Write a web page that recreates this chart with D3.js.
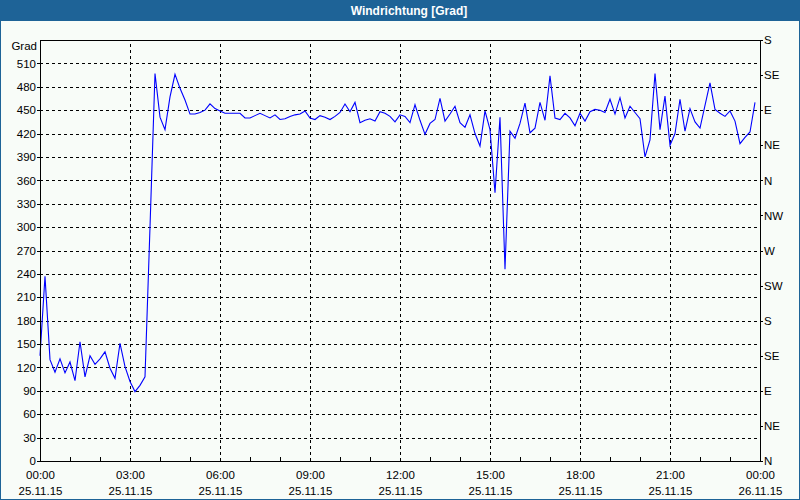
<!DOCTYPE html>
<html><head><meta charset="utf-8">
<script src="https://cdn.jsdelivr.net/npm/d3@7/dist/d3.min.js"></script>
<style>body{margin:0;background:#fff}svg{display:block}</style>
</head><body><svg id="c" width="800" height="500"></svg>
<script>
const title = "Windrichtung [Grad]";
const yUnit = "Grad";
const stepMinutes = 10;
const values = [
 135,237,130,114,131,113,127,103,153,108,
 135,124,131,140,119,106,151,121,102,89,
 97,108,300,497,441,425,467,496,478,463,
 445,445,447,450,458,452,449,446,446,446,
 446,440,440,443,446,443,440,444,438,439,
 442,444,445,449,440,438,443,441,438,442,
 447,458,448,460,434,437,439,436,448,446,
 442,435,444,442,434,457,437,419,433,438,
 465,436,445,455,434,428,444,420,404,449,
 425,344,441,246,423,414,433,459,421,427,
 460,437,494,440,438,446,440,430,446,436,
 448,451,450,447,464,445,466,440,455,447,
 439,390,412,497,425,468,405,420,464,423,
 452,435,427,456,485,451,446,442,449,436,
 407,415,422,460
];
const yTicks = [0,30,60,90,120,150,180,210,240,270,300,330,360,390,420,450,480,510];
const dirValues = [0,45,90,135,180,225,270,315,360,405,450,495,540];
const dirLabels = ["N","NE","E","SE","S","SW","W","NW","N","NE","E","SE","S"];
const timeTicks = [0,180,360,540,720,900,1080,1260,1440];
const timeLabels = ["00:00","03:00","06:00","09:00","12:00","15:00","18:00","21:00","00:00"];
const dateLabels = ["25.11.15","25.11.15","25.11.15","25.11.15","25.11.15","25.11.15","25.11.15","25.11.15","26.11.15"];
const minorTicks = [60,120,240,300,420,480,600,660,780,840,960,1020,1140,1200,1320,1380];

const W = 800, H = 500;
const L = 40, R = 760, T = 40, B = 461;
const svg = d3.select("#c");
const font = "'Liberation Sans', Arial, sans-serif";

svg.append("rect").attr("x",0).attr("y",0).attr("width",W).attr("height",H).attr("fill","#f8fcf8");
svg.append("rect").attr("x",0).attr("y",0).attr("width",W).attr("height",21).attr("fill","#1e6397");
svg.append("rect").attr("x",0.5).attr("y",0.5).attr("width",W-1).attr("height",H-1)
  .attr("fill","none").attr("stroke","#1e6397").attr("stroke-width",1);
svg.append("text").attr("x",409).attr("y",14.5).attr("text-anchor","middle")
  .attr("font-family",font).attr("font-weight","bold").attr("font-size","12px")
  .attr("fill","#fff").text(title);

const x = d3.scaleLinear().domain([0,1440]).range([L,R]);
const y = d3.scaleLinear().domain([0,540]).range([B,T]);

// grid
const gridY = svg.append("g").attr("transform",`translate(${L},0)`)
  .call(d3.axisLeft(y).tickValues(yTicks.filter(v=>v>0)).tickSize(-(R-L)).tickFormat(""));
gridY.select(".domain").remove();
gridY.selectAll("line").attr("stroke","#000").attr("stroke-dasharray","3,3").attr("shape-rendering","crispEdges");
const gridX = svg.append("g").attr("transform",`translate(0,${B})`)
  .call(d3.axisBottom(x).tickValues(timeTicks.slice(1,-1)).tickSize(-(B-T)).tickFormat(""));
gridX.select(".domain").remove();
gridX.selectAll("line").attr("stroke","#000").attr("stroke-dasharray","3,3").attr("shape-rendering","crispEdges");

// minor ticks (inside, bottom)
const minor = svg.append("g").attr("transform",`translate(0,${B})`)
  .call(d3.axisBottom(x).tickValues(minorTicks).tickSize(-4).tickFormat(""));
minor.select(".domain").remove();
minor.selectAll("line").attr("stroke","#000").attr("shape-rendering","crispEdges");

// line
const line = d3.line().x((d,i)=>x(i*stepMinutes)).y(d=>y(d));
svg.append("path").datum(values).attr("d",line).attr("fill","none")
  .attr("stroke","#0000ff").attr("stroke-width",1.1);

// frame
svg.append("rect").attr("x",L).attr("y",T).attr("width",R-L).attr("height",B-T)
  .attr("fill","none").attr("stroke","#000").attr("stroke-width",1).attr("shape-rendering","crispEdges");

// left axis labels
const ax = svg.append("g").attr("transform",`translate(${L},0)`)
  .call(d3.axisLeft(y).tickValues(yTicks).tickSize(3).tickPadding(1));
ax.select(".domain").remove();
ax.selectAll("line").attr("stroke","#000").attr("shape-rendering","crispEdges");
ax.selectAll("text").attr("font-family",font).attr("font-size","11.5px").attr("fill","#000");
svg.append("text").attr("x",37).attr("y",50).attr("text-anchor","end")
  .attr("font-family",font).attr("font-size","11.5px").attr("fill","#000").text(yUnit);

// right axis labels
const ar = svg.append("g").attr("transform",`translate(${R},0)`)
  .call(d3.axisRight(y).tickValues(dirValues).tickSize(3).tickPadding(1).tickFormat((d,i)=>dirLabels[i]));
ar.select(".domain").remove();
ar.selectAll("line").attr("stroke","#000").attr("shape-rendering","crispEdges");
ar.selectAll("text").attr("font-family",font).attr("font-size","11.5px").attr("fill","#000");

// bottom axis labels
const ab = svg.append("g").attr("transform",`translate(0,${B+2})`)
  .call(d3.axisBottom(x).tickValues(timeTicks).tickSize(0).tickPadding(8).tickFormat((d,i)=>timeLabels[i]));
ab.select(".domain").remove();
ab.selectAll("text").attr("font-family",font).attr("font-size","11.5px").attr("fill","#000");
const ab2 = svg.append("g").attr("transform",`translate(0,${B+18})`)
  .call(d3.axisBottom(x).tickValues(timeTicks).tickSize(0).tickPadding(8).tickFormat((d,i)=>dateLabels[i]));
ab2.select(".domain").remove();
ab2.selectAll("text").attr("font-family",font).attr("font-size","11.5px").attr("fill","#000");
</script></body></html>
